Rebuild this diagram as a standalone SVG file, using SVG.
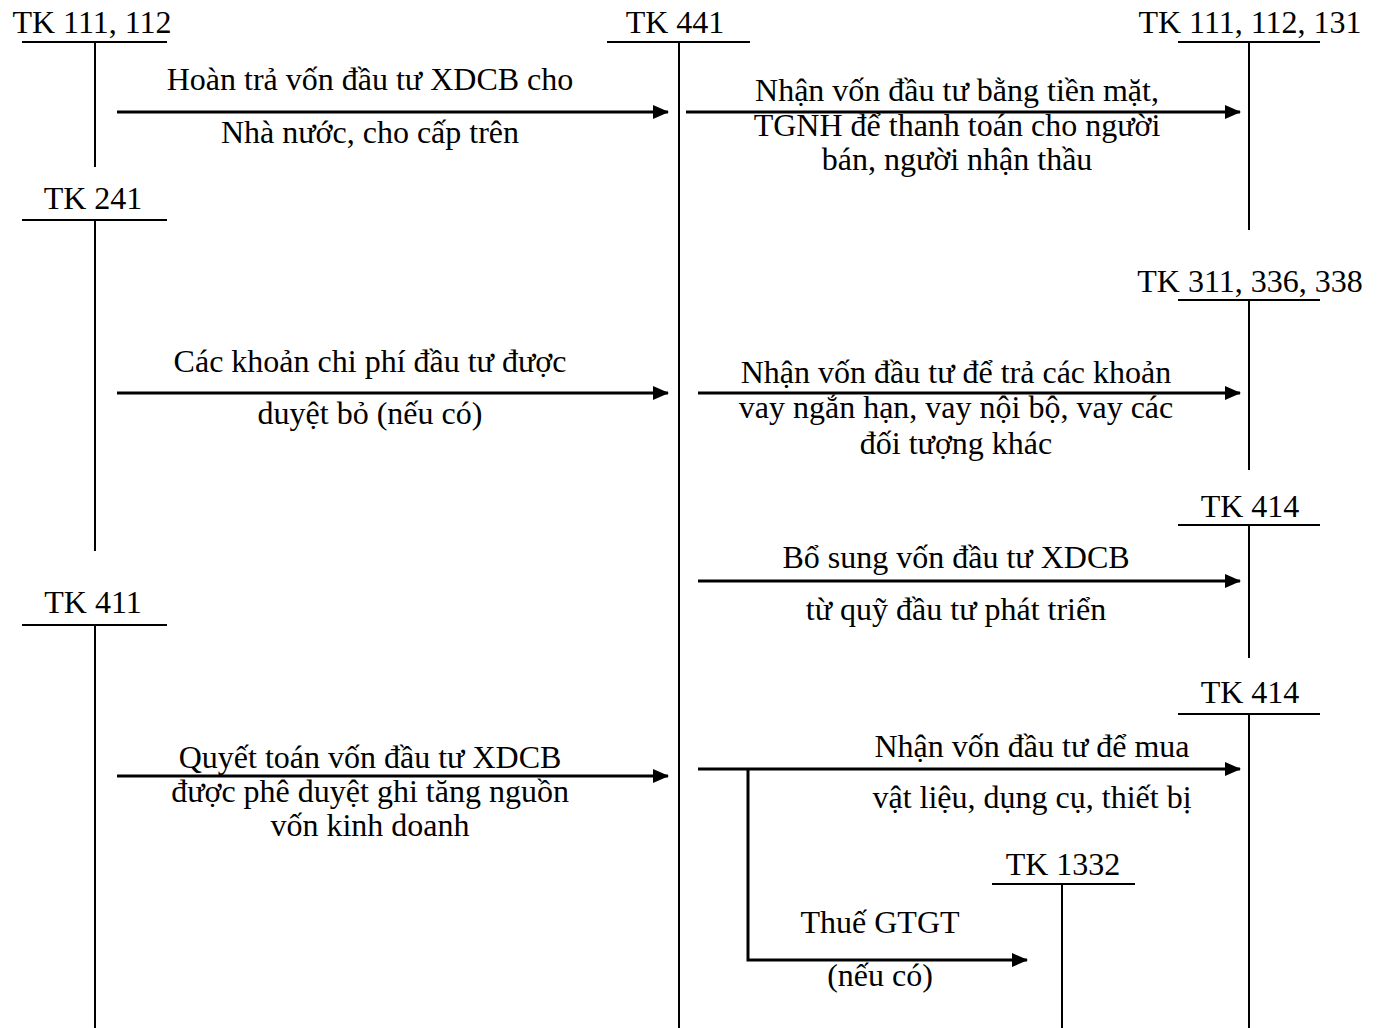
<svg xmlns="http://www.w3.org/2000/svg" width="1381" height="1028" viewBox="0 0 1381 1028">
<defs>
<marker id="ah" markerWidth="16" markerHeight="14" refX="15" refY="7" orient="auto" markerUnits="userSpaceOnUse">
<path d="M0,0 L16,7 L0,14 Z" fill="#000"/>
</marker>
<style>
text{font-family:"Liberation Serif","Times New Roman",serif;font-size:32px;fill:#000;text-anchor:middle}
.t{stroke:#000;stroke-width:2;fill:none}
.a{stroke:#000;stroke-width:3;fill:none}
</style>
</defs>
<rect width="1381" height="1028" fill="#fff"/>
<g id="tk111_112">
<text x="92" y="33">TK 111, 112</text>
<path class="t" d="M22,42 H167 M95,42 V167"/>
</g>
<g id="tk441">
<text x="675" y="33">TK 441</text>
<path class="t" d="M607,42 H750 M679,42 V1028"/>
</g>
<g id="tk111_112_131">
<text x="1250" y="33">TK 111, 112, 131</text>
<path class="t" d="M1178,42 H1320 M1249,42 V230"/>
</g>
<g id="tk241">
<text x="93" y="209">TK 241</text>
<path class="t" d="M22,220 H167 M95,220 V551"/>
</g>
<g id="tk311">
<text x="1250" y="292">TK 311, 336, 338</text>
<path class="t" d="M1178,300 H1320 M1249,300 V470"/>
</g>
<g id="tk414a">
<text x="1250" y="517">TK 414</text>
<path class="t" d="M1178,525 H1320 M1249,525 V658"/>
</g>
<g id="tk411">
<text x="93" y="613">TK 411</text>
<path class="t" d="M22,625 H167 M95,625 V1028"/>
</g>
<g id="tk414b">
<text x="1250" y="703">TK 414</text>
<path class="t" d="M1178,714 H1320 M1249,714 V1028"/>
</g>
<g id="tk1332">
<text x="1063" y="875">TK 1332</text>
<path class="t" d="M992,884 H1135 M1062,884 V1028"/>
</g>
<g id="connectors">
<path class="a" d="M117,112 H668" marker-end="url(#ah)"/>
<path class="a" d="M686,112 H1240" marker-end="url(#ah)"/>
<path class="a" d="M117,393 H668" marker-end="url(#ah)"/>
<path class="a" d="M698,393 H1240" marker-end="url(#ah)"/>
<path class="a" d="M698,581 H1240" marker-end="url(#ah)"/>
<path class="a" d="M117,776 H668" marker-end="url(#ah)"/>
<path class="a" d="M698,769 H1240" marker-end="url(#ah)"/>
<path class="a" d="M748,769 V960 H1027" marker-end="url(#ah)"/>
</g>
<g id="labels">
<text x="370" y="90">Hoàn trả vốn đầu tư XDCB cho</text>
<text x="370" y="143">Nhà nước, cho cấp trên</text>
<text x="957" y="101">Nhận vốn đầu tư bằng tiền mặt,</text>
<text x="957" y="136">TGNH để thanh toán cho người</text>
<text x="957" y="170">bán, người nhận thầu</text>
<text x="370" y="372">Các khoản chi phí đầu tư được</text>
<text x="370" y="424">duyệt bỏ (nếu có)</text>
<text x="956" y="383">Nhận vốn đầu tư để trả các khoản</text>
<text x="956" y="418">vay ngắn hạn, vay nội bộ, vay các</text>
<text x="956" y="454">đối tượng khác</text>
<text x="956" y="568">Bổ sung vốn đầu tư XDCB</text>
<text x="956" y="620">từ quỹ đầu tư phát triển</text>
<text x="370" y="768">Quyết toán vốn đầu tư XDCB</text>
<text x="370" y="802">được phê duyệt ghi tăng nguồn</text>
<text x="370" y="836">vốn kinh doanh</text>
<text x="1032" y="757">Nhận vốn đầu tư để mua</text>
<text x="1032" y="808">vật liệu, dụng cụ, thiết bị</text>
<text x="880" y="933">Thuế GTGT</text>
<text x="880" y="986">(nếu có)</text>
</g>
</svg>
